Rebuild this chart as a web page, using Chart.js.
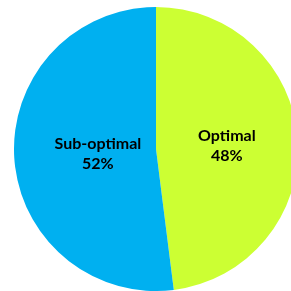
<!DOCTYPE html>
<html><head><meta charset="utf-8">
<script src="https://cdn.jsdelivr.net/npm/chart.js@4/dist/chart.umd.min.js"></script>
<style>
html,body{margin:0;padding:0;background:#fff;overflow:hidden;width:291px;height:291px;}
#wrap{position:absolute;left:14px;top:7px;width:284px;height:284px;}
</style></head>
<body>
<div id="wrap"><canvas id="c"></canvas></div>
<script>
const categories = ["Optimal", "Sub-optimal"];
const values = [48, 52];
const colors = ["#CCFF33", "#00B0F0"];
const labelRadiusFrac = [0.5, 0.41];

const labelPlugin = {
  id: 'sliceLabels',
  afterDatasetsDraw(chart) {
    const ctx = chart.ctx;
    const meta = chart.getDatasetMeta(0);
    const total = values.reduce((a, b) => a + b, 0);
    ctx.save();
    ctx.fillStyle = '#000';
    ctx.font = 'bold 16px Lato, "Open Sans", sans-serif';
    ctx.textAlign = 'center';
    ctx.textBaseline = 'middle';
    meta.data.forEach((arc, i) => {
      const mid = (arc.startAngle + arc.endAngle) / 2;
      const r = arc.outerRadius * labelRadiusFrac[i];
      const x = arc.x + Math.cos(mid) * r;
      const y = arc.y + Math.sin(mid) * r;
      const pct = Math.round(values[i] / total * 100) + '%';
      ctx.fillText(categories[i], x, y - 9);
      ctx.fillText(pct, x, y + 11);
    });
    ctx.restore();
  }
};

new Chart(document.getElementById('c'), {
  type: 'pie',
  data: {
    labels: categories,
    datasets: [{ data: values, backgroundColor: colors, borderWidth: 0 }]
  },
  options: {
    responsive: true,
    maintainAspectRatio: false,
    animation: false,
    layout: { padding: 0 },
    plugins: { legend: { display: false }, tooltip: { enabled: false } }
  },
  plugins: [labelPlugin]
});
</script>
</body></html>
